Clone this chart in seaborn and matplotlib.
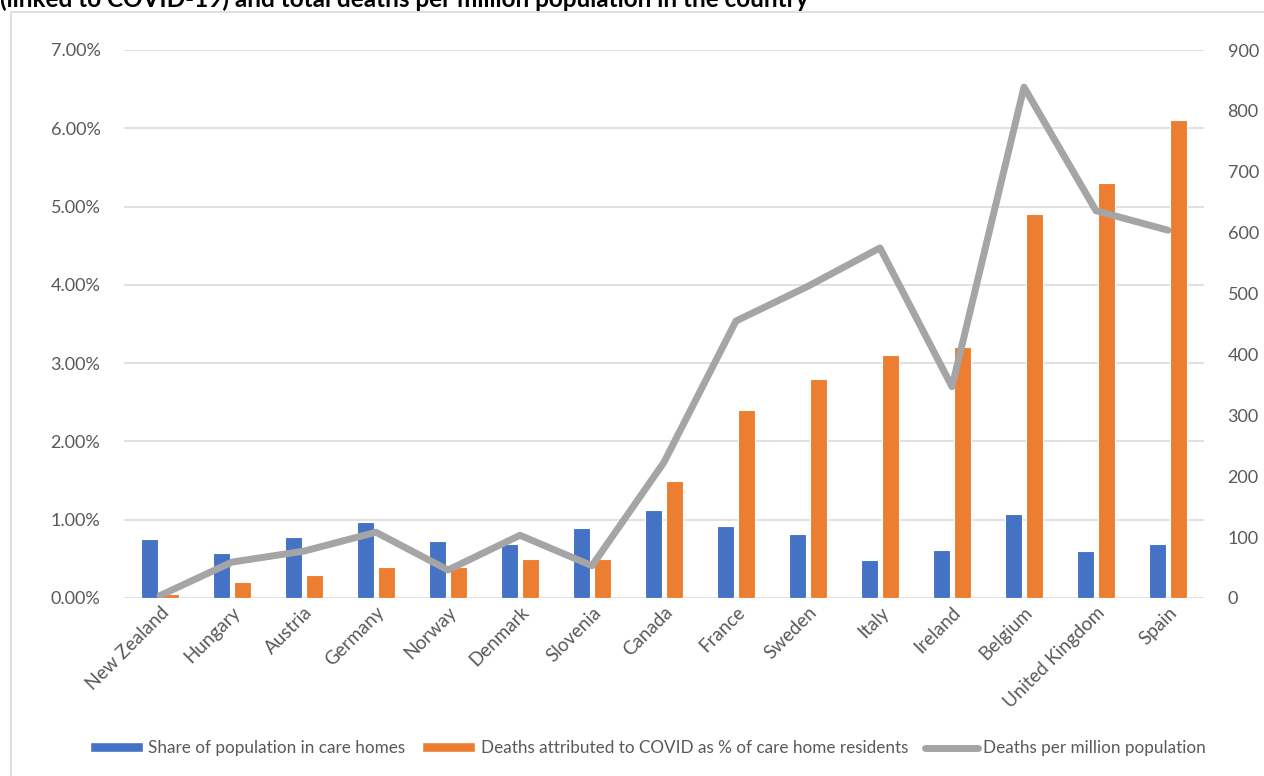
import numpy as np
import pandas as pd
import matplotlib
matplotlib.use("Agg")
import matplotlib.pyplot as plt
import seaborn as sns
from matplotlib.patches import Patch, Rectangle
from matplotlib.lines import Line2D
from matplotlib.ticker import FuncFormatter, MultipleLocator

# data
countries = ["New Zealand", "Hungary", "Austria", "Germany", "Norway", "Denmark",
             "Slovenia", "Canada", "France", "Sweden", "Italy", "Ireland",
             "Belgium", "United Kingdom", "Spain"]
share_in_care_homes = [0.76, 0.57, 0.78, 0.97, 0.73, 0.69, 0.89, 1.12, 0.92,
                       0.82, 0.49, 0.61, 1.07, 0.60, 0.69]
covid_deaths_pct = [0.05, 0.20, 0.30, 0.40, 0.40, 0.50, 0.50, 1.50, 2.40,
                    2.80, 3.10, 3.20, 4.90, 5.30, 6.10]
deaths_per_million = [4, 59, 77, 108, 46, 103, 53, 223, 455, 512, 575, 347,
                      839, 636, 604]

series_bar = ["Share of population in care homes",
              "Deaths attributed to COVID as % of care home residents"]
series_line = "Deaths per million population"
title = "(linked to COVID-19) and total deaths per million population in the country"

BLUE = "#4472C4"
ORANGE = "#ED7D31"
GREY = "#A5A5A5"
TEXT = "#595959"

sns.set_theme(style="white")
plt.rcParams["font.family"] = ["Lato", "DejaVu Sans"]

df = pd.DataFrame({"country": countries,
                   series_bar[0]: share_in_care_homes,
                   series_bar[1]: covid_deaths_pct,
                   series_line: deaths_per_million})
long_df = df.melt(id_vars="country", value_vars=series_bar,
                  var_name="series", value_name="value")

fig = plt.figure(figsize=(12.64, 7.76), dpi=100)
ax = fig.add_axes([124 / 1264, 1 - 598 / 776, (1204 - 124) / 1264, (598 - 50) / 776])

sns.barplot(data=long_df, x="country", y="value", hue="series",
            palette=[BLUE, ORANGE], width=0.56, gap=0.16, ax=ax,
            edgecolor="white", linewidth=0.8, legend=False, saturation=1)

ax.set_ylim(0, 7)
ax.yaxis.set_major_locator(MultipleLocator(1))
ax.yaxis.set_major_formatter(FuncFormatter(lambda v, p: f"{v:.2f}%"))
ax.grid(axis="y", color="#D9D9D9", linewidth=1.1)
ax.set_axisbelow(True)
ax.set_xlim(-0.5, len(countries) - 0.5)
ax.set_xlabel("")
ax.set_ylabel("")
for s in ax.spines.values():
    s.set_visible(False)
ax.tick_params(axis="y", length=0, pad=17, labelsize=13, labelcolor=TEXT)
ax.tick_params(axis="x", length=0, pad=4, labelsize=13.5, labelcolor=TEXT)
plt.setp(ax.get_xticklabels(), rotation=45, ha="right", rotation_mode="anchor")

ax2 = ax.twinx()
sns.lineplot(x=df.index, y=df[series_line], ax=ax2, color=GREY,
             linewidth=5, sort=False, legend=False)
ax2.set_ylim(0, 900)
ax2.yaxis.set_major_locator(MultipleLocator(100))
ax2.set_ylabel("")
for s in ax2.spines.values():
    s.set_visible(False)
ax2.tick_params(axis="y", length=0, pad=17, labelsize=13, labelcolor=TEXT)
ax2.grid(False)

# chart border and the clipped title line above it
fig.patches.append(Rectangle((11 / 1264, -0.1), 1.2, 1 - 12 / 776 + 0.1,
                             transform=fig.transFigure, fill=False,
                             edgecolor="#D9D9D9", linewidth=1.2))
fig.text(0.0, 1 - 7 / 776, title, fontsize=17.5, fontweight="bold",
         color="black", va="baseline", ha="left")

handles = [Patch(facecolor=BLUE, label=series_bar[0]),
           Patch(facecolor=ORANGE, label=series_bar[1]),
           Line2D([0], [0], color=GREY, linewidth=5, label=series_line)]
fig.legend(handles=handles, loc="center", ncol=3, frameon=False,
           bbox_to_anchor=(648 / 1264, 1 - 748 / 776), fontsize=12.3,
           labelcolor=TEXT, handlelength=3.1, handleheight=0.5,
           handletextpad=0.3, columnspacing=1.0)

fig.savefig("out.png", dpi=100)
